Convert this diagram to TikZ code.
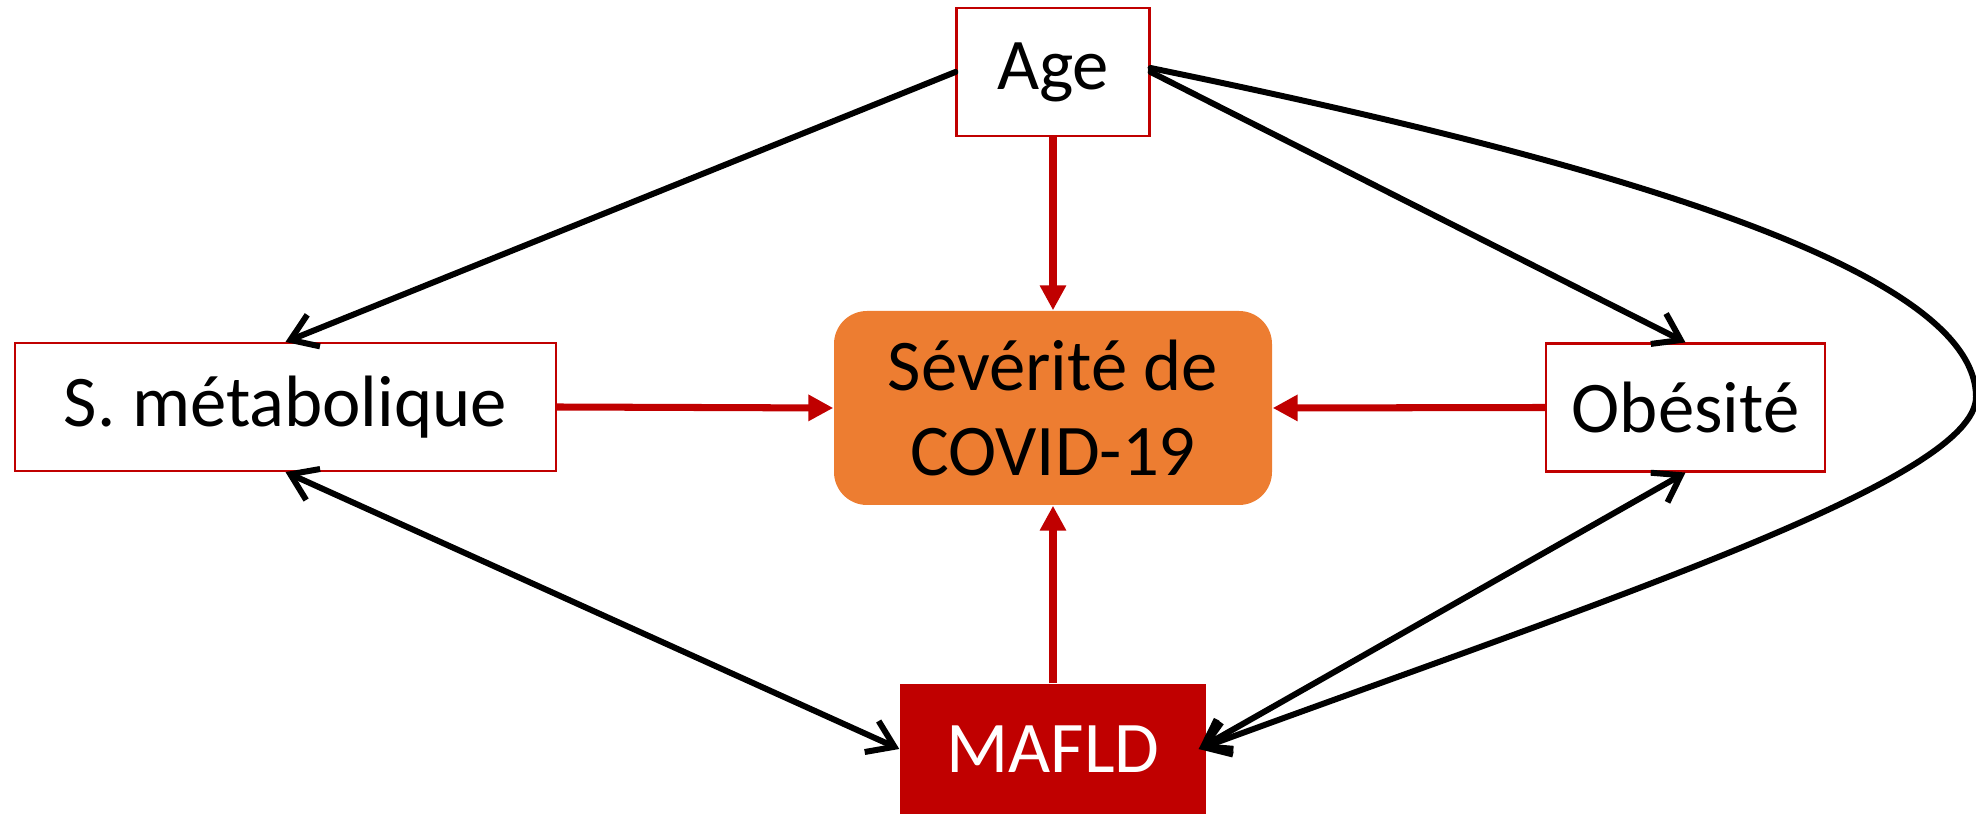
\documentclass[tikz,border=0pt]{standalone}
\usepackage{fontspec}
\setmainfont{Carlito}
\usetikzlibrary{arrows.meta}

\definecolor{darkred}{RGB}{192,0,0}
\definecolor{covidorange}{RGB}{237,125,49}

\begin{document}
\begin{tikzpicture}[
    font=\fontsize{20.7}{24.2}\selectfont,
    factor/.style={draw=darkred, line width=0.6pt, fill=white, inner sep=0pt, minimum height=1.28cm},
    redarrow/.style={-{Triangle[length=2.5mm,width=2.5mm]}, line width=2pt, darkred},
    blackarrow/.style={-{Straight Barb[length=2.5mm,width=3.4mm]}, line width=1.7pt, line cap=round, black},
    bothways/.style={{Straight Barb[length=2.5mm,width=3.4mm]}-{Straight Barb[length=2.5mm,width=3.4mm]}, line width=1.7pt, line cap=round, black}
]

\useasboundingbox (0,0) rectangle (19.76,8.14);

% Column of the outcome
\def\cx{10.53}

% Boxes
\node[factor, minimum width=1.93cm] (age) at (\cx,7.42) {Age};
\node[rounded corners=0.33cm, fill=covidorange, minimum width=4.38cm, minimum height=1.94cm, align=center] (sev) at (\cx,4.06) {Sévérité de\\COVID-19};
\node[factor, minimum width=5.41cm] (meta) at (2.855,4.07) {S. métabolique};
\node[factor, minimum width=2.79cm] (obes) at (16.855,4.065) {Obésité};
\node[fill=darkred, text=white, minimum width=3.06cm, minimum height=1.30cm] (mafld) at (\cx,0.65) {MAFLD};

% Effects on the severity
\foreach \src/\dst in {age.south/sev.north, meta.east/sev.west, obes.west/sev.east, mafld.north/sev.south} {
    \draw[redarrow] (\src) -- (\dst);
}

% Links between the factors
\draw[blackarrow] (age.west) -- (meta.north);
\draw[blackarrow] (age.east) -- (obes.north);
\draw[bothways] (meta.south) -- (mafld.west);
\draw[bothways] (obes.south) -- ([xshift=-0.08cm]mafld.east);

% Age to MAFLD, round the right side
\draw[blackarrow] ([yshift=0.04cm]age.east) .. controls (15.5,6.64) and (19.76,5.54) .. (19.76,4.17)
    .. controls (19.76,3.34) and (16.0,2.12) .. ([xshift=-0.08cm]mafld.east);

\end{tikzpicture}
\end{document}
